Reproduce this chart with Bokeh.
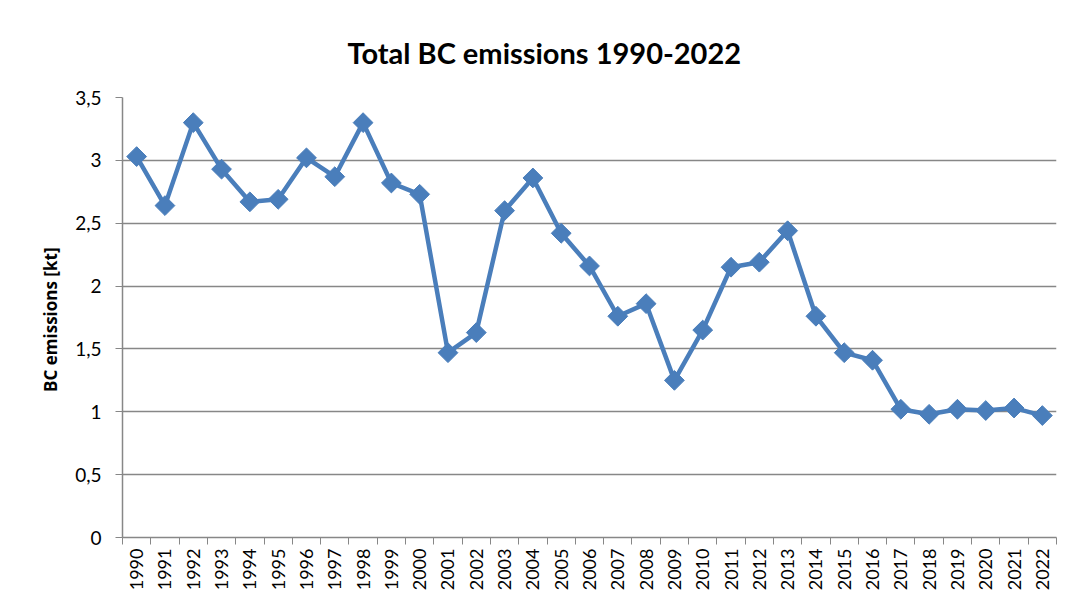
import math
from bokeh.plotting import figure
from bokeh.models import FixedTicker, CustomJSTickFormatter, Range1d
from bokeh.embed import file_html
from bokeh.resources import INLINE

years = list(range(1990, 2023))
emissions = [3.03, 2.64, 3.30, 2.93, 2.67, 2.69, 3.02, 2.87, 3.30, 2.82, 2.73,
             1.47, 1.63, 2.60, 2.86, 2.42, 2.16, 1.76, 1.86, 1.25, 1.65, 2.15,
             2.19, 2.44, 1.76, 1.47, 1.41, 1.02, 0.98, 1.02, 1.01, 1.03, 0.97]
y_ticks = [0, 0.5, 1, 1.5, 2, 2.5, 3, 3.5]
title_text = "Total BC emissions 1990-2022"
y_label = "BC  emissions [kt]"

FONT = "Lato"
GRID = "#878787"
BLUE = "#4A7EBB"

p = figure(width=1059, height=593, output_backend="svg", toolbar_location=None,
           x_range=Range1d(years[0] - 0.5, years[-1] + 0.5),
           y_range=Range1d(0, 3.5),
           min_border_left=122, min_border_right=3, min_border_bottom=51,
           min_border_top=97)
p.outline_line_color = None
p.background_fill_color = "white"

p.title.text = title_text
p.title.align = "left"
p.title.offset = 225
p.title.text_font = FONT
p.title.text_font_size = "29px"
p.title.text_font_style = "bold"
p.title.text_color = "black"
p.title.standoff = 56

p.line(years, emissions, line_color=BLUE, line_width=4.5)
p.scatter(years, emissions, marker="square", angle=math.pi / 4, size=14,
          fill_color=BLUE, line_color=BLUE)

# x axis
p.xaxis.ticker = FixedTicker(ticks=years, minor_ticks=[y - 0.5 for y in years] + [years[-1] + 0.5])
p.xaxis.formatter = CustomJSTickFormatter(code="return String(Math.round(tick));")
p.xaxis.major_label_orientation = 1.5708
p.xaxis.major_tick_out = 0
p.xaxis.major_tick_in = 0
p.xaxis.minor_tick_out = 7
p.xaxis.minor_tick_in = 0
p.xaxis.minor_tick_line_color = GRID
p.xaxis.axis_line_color = GRID
p.xaxis.axis_line_width = 1.5
p.xaxis.major_label_text_font = FONT
p.xaxis.major_label_text_font_size = "18px"
p.xaxis.major_label_text_color = "black"
p.xaxis.major_label_standoff = 4
p.xgrid.grid_line_color = None

# y axis
p.yaxis.ticker = FixedTicker(ticks=y_ticks)
p.yaxis.formatter = CustomJSTickFormatter(code="return String(tick).replace('.', ',');")
p.yaxis.major_tick_out = 7
p.yaxis.major_tick_in = 0
p.yaxis.minor_tick_out = 0
p.yaxis.minor_tick_in = 0
p.yaxis.major_tick_line_color = GRID
p.yaxis.axis_line_color = GRID
p.yaxis.axis_line_width = 1.5
p.yaxis.major_label_text_font = FONT
p.yaxis.major_label_text_font_size = "19px"
p.yaxis.major_label_text_color = "black"
p.yaxis.major_label_standoff = 14
p.yaxis.axis_label = y_label
p.yaxis.axis_label_text_font = "Open Sans"
p.yaxis.axis_label_text_font_size = "17px"
p.yaxis.axis_label_text_font_style = "bold"
p.yaxis.axis_label_text_color = "black"
p.yaxis.axis_label_standoff = 10
p.ygrid.grid_line_color = GRID
p.ygrid.grid_line_width = 1.5

open("out.html", "w").write(file_html(p, INLINE))
